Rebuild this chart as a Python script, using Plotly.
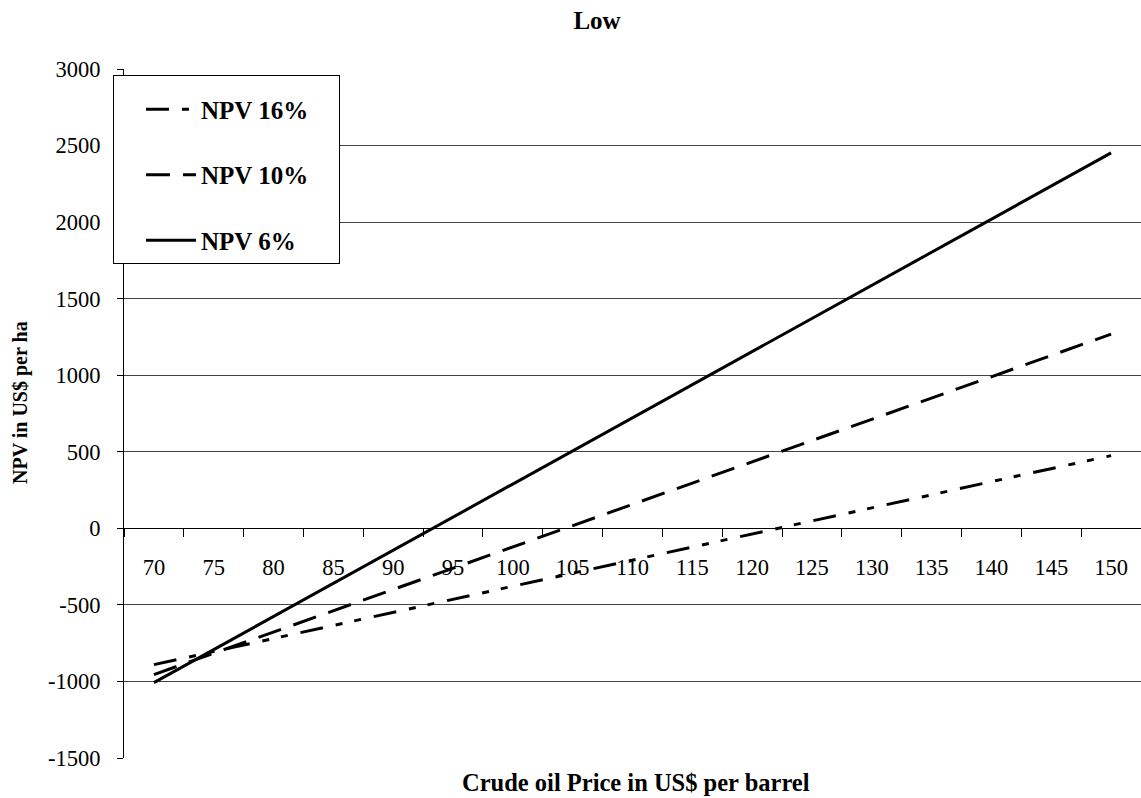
import plotly.graph_objects as go

# Crude oil price scenarios (US$ per barrel)
prices = ["70", "75", "80", "85", "90", "95", "100", "105", "110",
          "115", "120", "125", "130", "135", "140", "145", "150"]

# Net present value per hectare at three discount rates
npv_16 = [-890, -805, -719, -634, -549, -463, -378, -293, -207,
          -122, -37, 49, 134, 219, 305, 390, 475]
npv_10 = [-955, -816, -678, -539, -400, -262, -123, 16, 155,
          293, 432, 571, 710, 848, 987, 1126, 1268]
npv_6 = [-1008, -792, -576, -359, -143, 73, 289, 505, 722,
         938, 1154, 1370, 1587, 1803, 2019, 2235, 2452]

y_ticks = [-1500, -1000, -500, 0, 500, 1000, 1500, 2000, 2500, 3000]
y_tick_text = ["-1500", "-1000", "-500", "0", "500", "1000", "1500",
               "2000", "2500", "3000"]

series = [
    ("NPV 16%", npv_16, "23px,13px,7px,12px,7px,13px"),
    ("NPV 10%", npv_10, "24px,13px"),
    ("NPV 6%", npv_6, "solid"),
]

SERIF = "Liberation Serif, Times New Roman, serif"
# trailing padding keeps the legend frame wide on the right
PAD = "&nbsp;" * 4

fig = go.Figure()
for name, vals, dash in series:
    fig.add_trace(go.Scatter(
        x=prices, y=vals, mode="lines", name=f"<b>{name}</b>{PAD}",
        legendgroup=name, hovertemplate=f"{name}: %{{y}}<extra></extra>",
        line=dict(color="black", width=3, dash=dash),
    ))

fig.update_layout(
    width=1141, height=798,
    margin=dict(l=124, r=0, t=69, b=40),
    paper_bgcolor="white", plot_bgcolor="white",
    font=dict(family=SERIF, color="black", size=22),
    showlegend=True,
    title=dict(text="<b>Low</b>", font=dict(size=25, family=SERIF),
               x=597 / 1141, xref="container", xanchor="center",
               y=1 - 20 / 798, yref="container", yanchor="middle"),
    legend=dict(
        x=-0.0108, y=0.9913, xanchor="left", yanchor="top",
        bgcolor="white", bordercolor="black", borderwidth=1,
        font=dict(size=25, family=SERIF, color="black"),
        title=dict(text=" ", font=dict(size=8)),
        tracegroupgap=30, itemwidth=50, indentation=27,
    ),
    xaxis=dict(
        type="category", range=[-0.5, 16.5],
        anchor="free", position=1500 / 4500,
        showline=True, linecolor="black", linewidth=1,
        ticks="outside", ticklen=8, tickcolor="black", tickson="boundaries",
        showgrid=False, zeroline=False,
        tickfont=dict(size=22.5, family=SERIF),
        ticklabelstandoff=19,
    ),
    yaxis=dict(
        range=[-1500, 3000],
        tickvals=y_ticks, ticktext=y_tick_text,
        showline=True, linecolor="black", linewidth=1,
        ticks="outside", ticklen=6, tickcolor="black",
        showgrid=True, gridcolor="#444", gridwidth=1,
        zeroline=False,
        tickfont=dict(size=22.5, family=SERIF),
        ticklabelstandoff=12,
    ),
    annotations=[
        dict(text="<b>Crude oil Price in US$ per barrel</b>",
             xref="paper", yref="paper", x=(636 - 124) / 1017, y=-(782 - 758) / 689,
             xanchor="center", yanchor="middle", showarrow=False,
             font=dict(size=24.5, family=SERIF)),
        dict(text="<b>NPV in US$ per ha</b>", textangle=-90,
             xref="paper", yref="paper", x=-(124 - 20) / 1017, y=(758 - 403) / 689,
             xanchor="center", yanchor="middle", showarrow=False,
             font=dict(size=20, family=SERIF)),
    ],
)

fig.write_html("out.html")
